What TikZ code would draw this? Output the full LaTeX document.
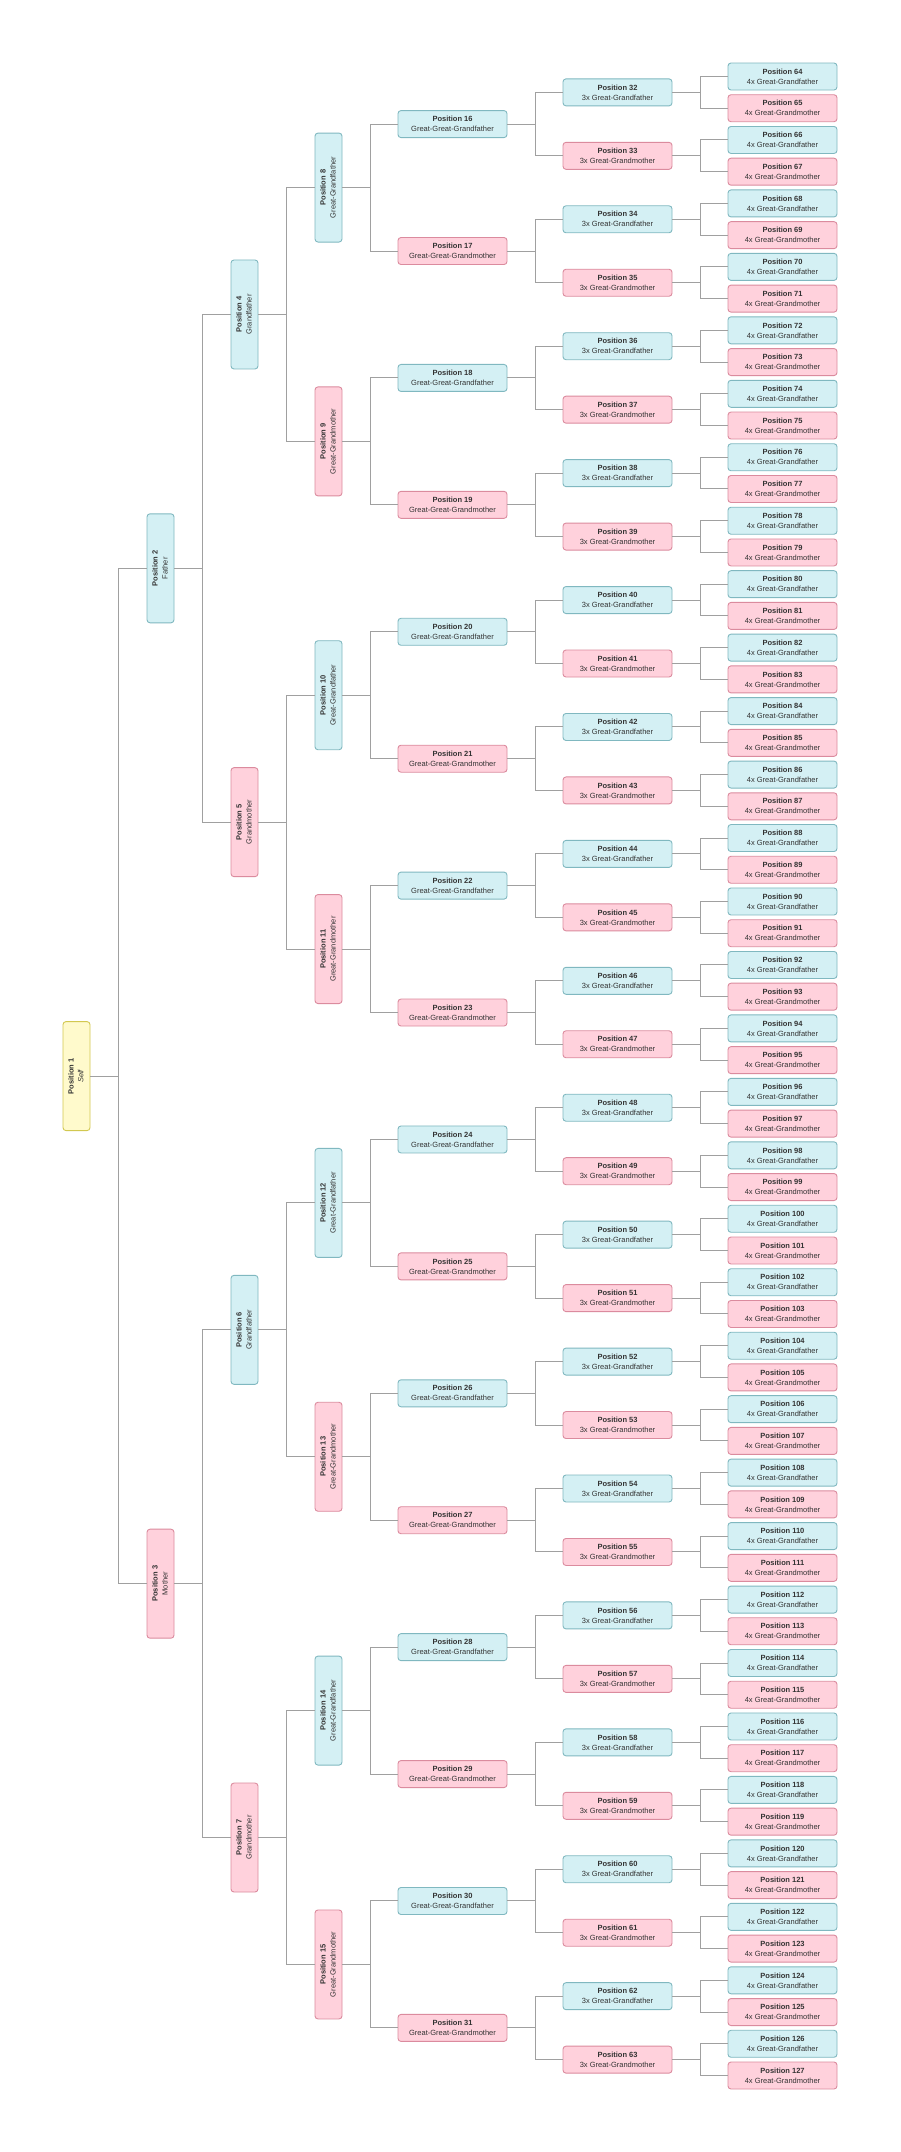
\documentclass[tikz,border=0pt]{standalone}
\usepackage{fontspec}
\setmainfont{Liberation Sans}
\usepackage{graphicx}
\definecolor{maleFill}{RGB}{212,240,244}
\definecolor{maleLine}{RGB}{128,184,192}
\definecolor{femFill}{RGB}{255,209,220}
\definecolor{femLine}{RGB}{219,139,158}
\definecolor{selfFill}{RGB}{255,250,204}
\definecolor{selfLine}{RGB}{210,200,80}
\definecolor{linkGray}{RGB}{160,160,160}
\definecolor{txt}{RGB}{51,51,51}
\tikzset{
  box/.style={draw, rounded corners=3pt, line width=0.9pt, inner sep=0pt,
    font=\fontsize{7.5}{10}\selectfont, text=txt, align=center},
  hbox/.style={box, minimum width=109pt, minimum height=27pt},
  vbox/.style={box, minimum width=27pt, minimum height=109pt},
  male/.style={fill=maleFill, draw=maleLine},
  female/.style={fill=femFill, draw=femLine},
  selfc/.style={fill=selfFill, draw=selfLine},
  link/.style={draw=linkGray, line width=1pt}
}
\begin{document}
\begin{tikzpicture}[x=1pt,y=-1pt]
\fill[white] (0,0) rectangle (900,2152);
\useasboundingbox (0,0) rectangle (900,2152);
% generation 1
\node[vbox, selfc] (p1) at (76.5,1076.1)
  {\rotatebox{90}{\begin{tabular}{@{}c@{}}\textbf{Position 1}\\\textit{Self}\end{tabular}}};
% other generations
\foreach \g/\xc/\pre/\fa/\mo in {
  2/160.5/{}/Father/Mother,
  3/244.5/Grand/father/mother,
  4/328.5/Great-Grand/father/mother,
  5/452.5/Great-Great-Grand/father/mother,
  6/617.5/3x Great-Grand/father/mother,
  7/782.5/4x Great-Grand/father/mother}{
  \pgfmathtruncatemacro\nstart{2^(\g-1)}
  \pgfmathtruncatemacro\nend{2^\g-1}
  \pgfmathtruncatemacro\lspan{2^(7-\g)}
  \foreach \n in {\nstart,...,\nend}{
    \pgfmathsetmacro\yc{76.5+((\n-\nstart)*\lspan+(\lspan-1)/2)*31.73}
    \ifodd\n\relax \def\sty{female}\def\rl{\mo}\else \def\sty{male}\def\rl{\fa}\fi
    \ifnum\g<5
      \node[vbox, \sty] (p\n) at (\xc,\yc)
        {\rotatebox{90}{\begin{tabular}{@{}c@{}}\textbf{Position \n}\\\pre\rl\end{tabular}}};
    \else
      \node[hbox, \sty] (p\n) at (\xc,\yc) {\textbf{Position \n}\\\pre\rl};
    \fi
  }
}
% connectors
\foreach \n in {2,...,127}{
  \pgfmathtruncatemacro\prt{floor(\n/2)}
  \draw[link] (p\prt.east) -- ++(28pt,0) |- (p\n.west);
}
\end{tikzpicture}
\end{document}
